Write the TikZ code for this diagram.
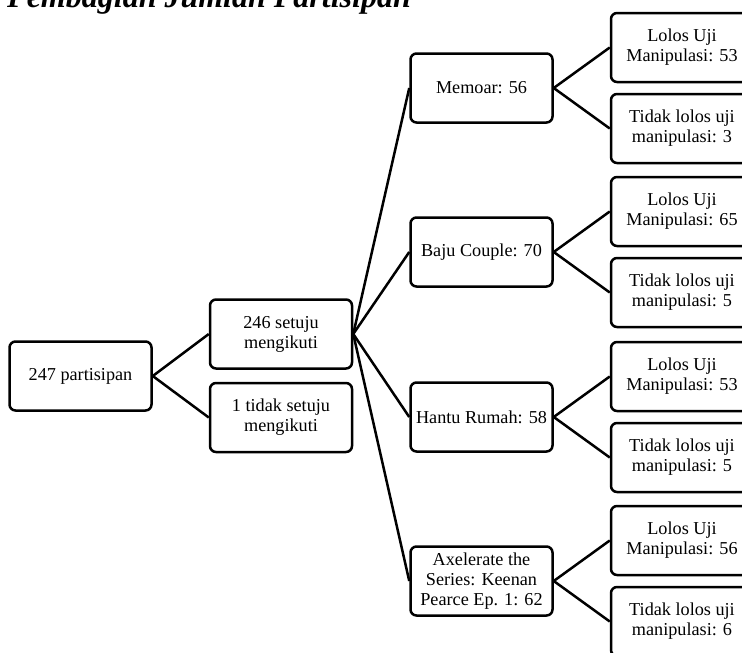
\documentclass[tikz,border=0pt]{standalone}
\usepackage{fontspec}
\setmainfont{Liberation Serif}
\usetikzlibrary{positioning}

\begin{document}
\begin{tikzpicture}[x=1pt,y=-1pt,node distance=200.5pt,
    box/.style={draw, line width=2.5pt, rounded corners=6pt, align=center,
      minimum width=142pt, minimum height=69pt, inner sep=2pt,
      font=\fontsize{18.2}{20}\selectfont},
    link/.style={line width=2.5pt}]

      \useasboundingbox (0,0) rectangle (742,653);

      \node[anchor=base west, inner sep=0pt, font=\fontsize{32}{36}\selectfont\bfseries\itshape] (title) at (7,7) {Pembagian Jumlah Partisipan};

      \node[box] (total) at (80.5,376) {247 partisipan};
      \node[box] (setuju) [right of=total, yshift=42pt] {246 setuju\\mengikuti};
      \node[box] (tidak) [right of=total, yshift=-41.5pt] {1 tidak setuju\\mengikuti};

      \node[box] (memoar) [right of=setuju, yshift=246pt] {Memoar: 56};
      \node[box] (baju) [right of=setuju, yshift=82pt] {Baju Couple: 70};
      \node[box] (hantu) [right of=setuju, yshift=-83pt] {Hantu Rumah: 58};
      \node[box] (axel) [right of=setuju, yshift=-247pt] {Axelerate the\\Series: Keenan\\Pearce Ep. 1: 62};

      \node[box] (memoarlolos) [right of=memoar, yshift=40.5pt] {Lolos Uji\\Manipulasi: 53};
      \node[box] (memoargagal) [right of=memoar, yshift=-40.5pt] {Tidak lolos uji\\manipulasi: 3};
      \node[box] (bajulolos) [right of=baju, yshift=40.5pt] {Lolos Uji\\Manipulasi: 65};
      \node[box] (bajugagal) [right of=baju, yshift=-40.5pt] {Tidak lolos uji\\manipulasi: 5};
      \node[box] (hantulolos) [right of=hantu, yshift=40.5pt] {Lolos Uji\\Manipulasi: 53};
      \node[box] (hantugagal) [right of=hantu, yshift=-40.5pt] {Tidak lolos uji\\manipulasi: 5};
      \node[box] (axellolos) [right of=axel, yshift=40.5pt] {Lolos Uji\\Manipulasi: 56};
      \node[box] (axelgagal) [right of=axel, yshift=-40.5pt] {Tidak lolos uji\\manipulasi: 6};

      \path[link]

      (total.east) edge (setuju.west)
      (total.east) edge (tidak.west)

      (setuju.east) edge (memoar.west)
      (setuju.east) edge (baju.west)
      (setuju.east) edge (hantu.west)
      (setuju.east) edge (axel.west)

      (memoar.east) edge (memoarlolos.west)
      (memoar.east) edge (memoargagal.west)
      (baju.east) edge (bajulolos.west)
      (baju.east) edge (bajugagal.west)
      (hantu.east) edge (hantulolos.west)
      (hantu.east) edge (hantugagal.west)
      (axel.east) edge (axellolos.west)
      (axel.east) edge (axelgagal.west)
      ;
\end{tikzpicture}
\end{document}
